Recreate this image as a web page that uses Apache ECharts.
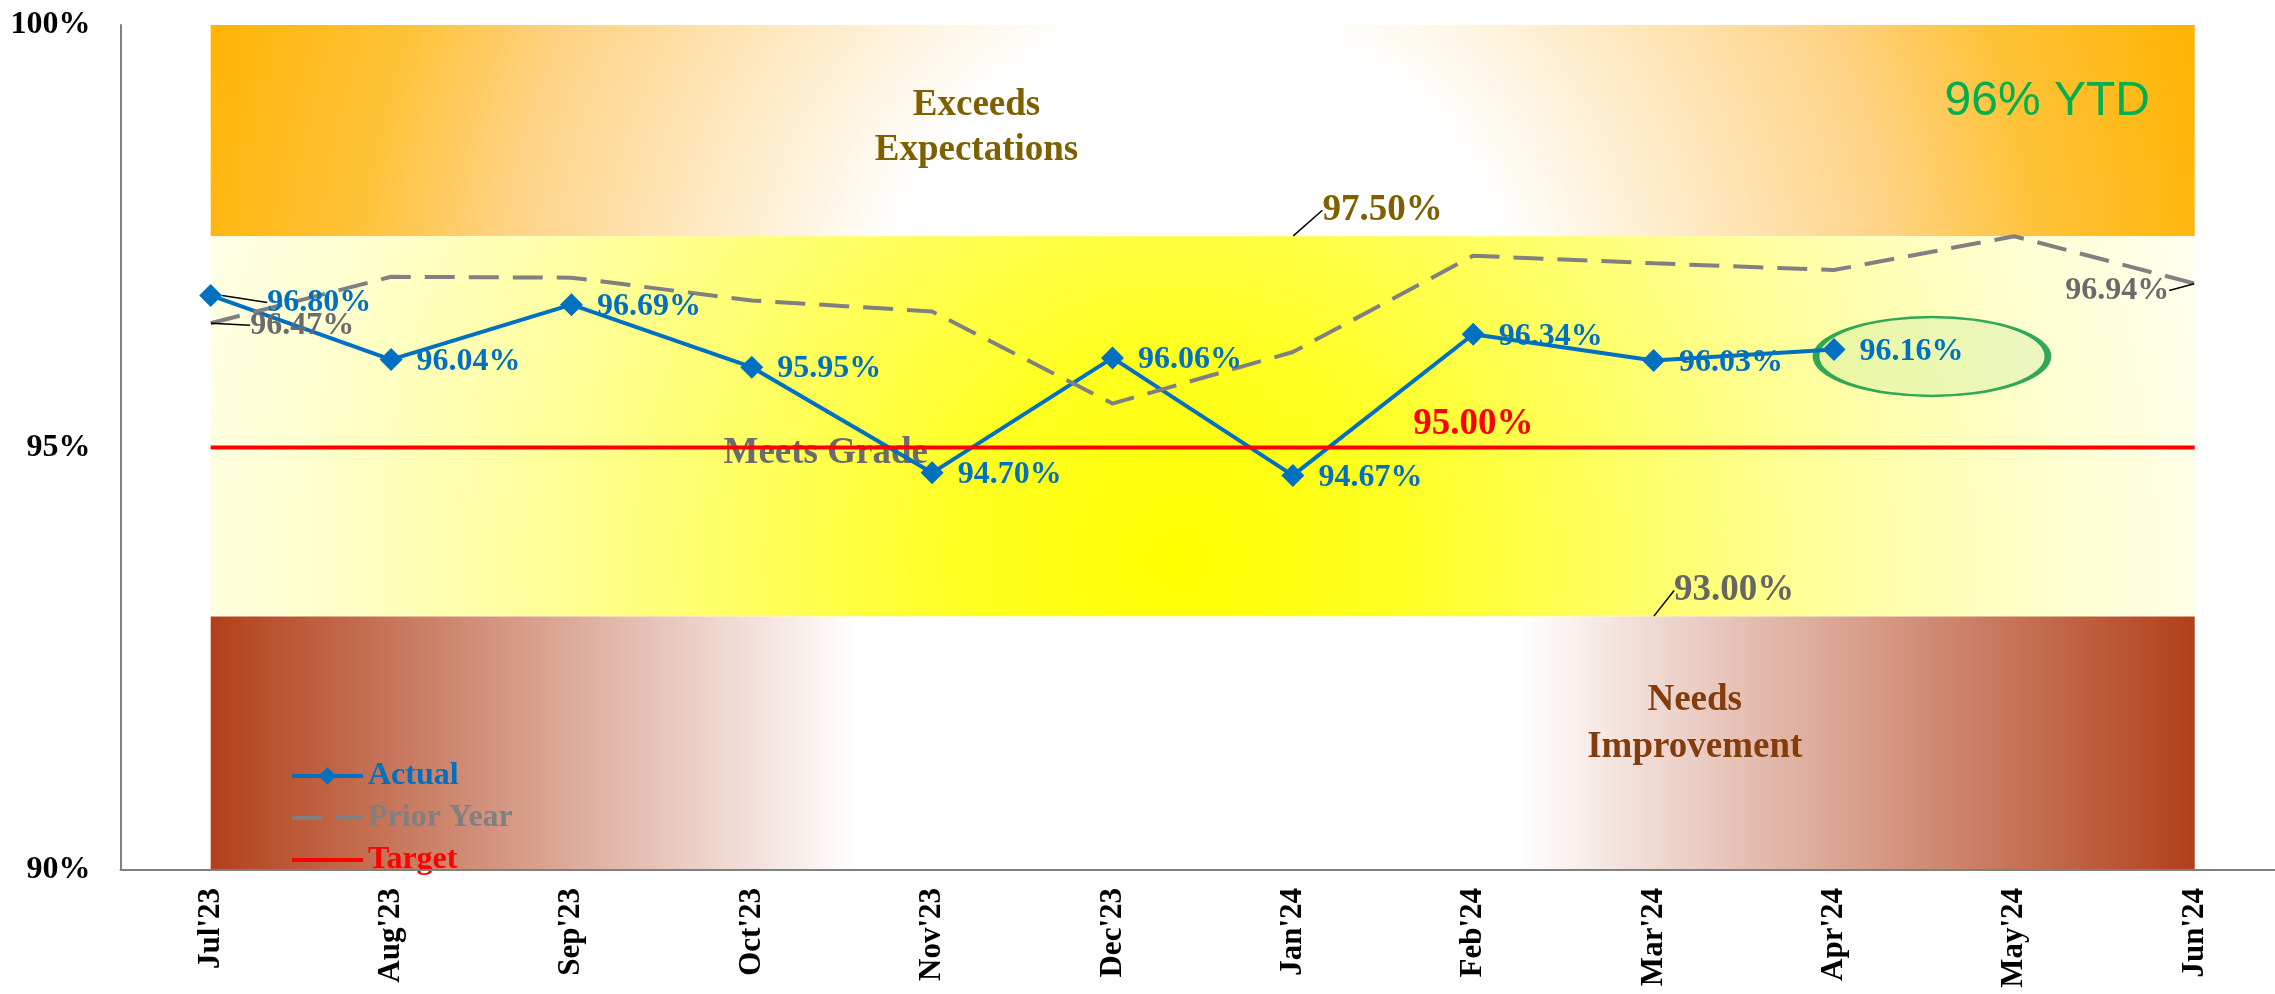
<!DOCTYPE html>
<html>
<head>
<meta charset="utf-8">
<script src="https://cdn.jsdelivr.net/npm/echarts@6/dist/echarts.min.js"></script>
<style>
html,body{margin:0;padding:0;background:#ffffff;}
#chart{width:2275px;height:994px;}
</style>
</head>
<body>
<div id="chart"></div>
<script>
// ---------------- data ----------------
const categories = ["Jul'23","Aug'23","Sep'23","Oct'23","Nov'23","Dec'23","Jan'24","Feb'24","Mar'24","Apr'24","May'24","Jun'24"];
const actual     = [96.80, 96.04, 96.69, 95.95, 94.70, 96.06, 94.67, 96.34, 96.03, 96.16, null, null];
const priorYear  = [96.47, 97.02, 97.01, 96.74, 96.61, 95.52, 96.13, 97.27, 97.18, 97.10, 97.50, 96.94];
const target     = [95, 95, 95, 95, 95, 95, 95, 95, 95, 95, 95, 95];
const bandNames  = ["Exceeds\nExpectations", "Meets Grade", "Needs\nImprovement"];
const bandFrom   = [97.5, 93, 90];
const bandTo     = [100, 97.5, 93];
const upperLimitCategory = "Jan'24", upperLimitValue = 97.5;
const lowerLimitCategory = "Mar'24", lowerLimitValue = 93;
const yAxisMin = 90, yAxisMax = 100, yAxisStep = 5;
const ytdText = "96% YTD";
const highlightIndex = 9;      // Apr'24 circled
const targetLabelIndex = 7;    // label shown at Feb'24

// ---------------- styling ----------------
const SERIF = "'Times New Roman', 'Liberation Serif', serif";
const BLUE = '#0070C0', GRAY = '#808080', GRAYTXT = '#6B6B6B', RED = '#FF0000';
const pct = v => Number(v).toFixed(2) + '%';

const bandStyles = [
  { color: { type: 'radial', x: 0.498, y: 1.445, r: 4.98, colorStops: [
      {offset: 0, color: '#FFFFFF'}, {offset: 0.3, color: '#FFFFFF'},
      {offset: 0.45, color: '#FEEDCC'}, {offset: 0.66, color: '#FED386'},
      {offset: 0.8, color: '#FFC33A'}, {offset: 1, color: '#FFB300'}]}},
  { color: { type: 'radial', x: 0.488, y: 0.85, r: 2.89, colorStops: [
      {offset: 0, color: '#FFFF00'}, {offset: 0.2, color: '#FFFF22'},
      {offset: 0.4, color: '#FFFF62'}, {offset: 0.6, color: '#FFFFA0'},
      {offset: 0.8, color: '#FFFFD0'}, {offset: 1, color: '#FFFFF5'}]}},
  { color: { type: 'linear', x: 0, y: 0, x2: 1, y2: 0, colorStops: [
      {offset: 0, color: '#B1401A'}, {offset: 0.325, color: '#FFFFFF'},
      {offset: 0.66, color: '#FFFFFF'}, {offset: 1, color: '#B1401A'}]}}
];
const bandLabels = [
  { position: ['38.6%', '48.6%'], color: '#7F6000', lineHeight: 45 },
  { position: ['31%', '57%'], color: '#6B6B6B', lineHeight: 40 },
  { position: ['74.8%', '42.2%'], color: '#843C0C', lineHeight: 47 }
];

const markAreaData = bandNames.map((n, i) => [
  { name: n, xAxis: categories[0], yAxis: bandFrom[i],
    itemStyle: bandStyles[i],
    label: Object.assign({ show: true, align: 'center', verticalAlign: 'middle',
      fontFamily: SERIF, fontWeight: 'bold', fontSize: 37 }, bandLabels[i]) },
  { xAxis: categories[categories.length - 1], yAxis: bandTo[i] }
]);

function limitSeries(name, cat, val, color, dx, dy) {
  return {
    name: name, type: 'scatter', z: 4, silent: true,
    data: [[cat, val]],
    symbol: 'circle', symbolSize: 1,
    itemStyle: { color: 'rgba(0,0,0,0)' },
    label: { show: true, position: 'right', distance: 0, color: color, opacity: 1,
             fontFamily: SERIF, fontWeight: 'bold', fontSize: 37,
             formatter: p => pct(p.value[1]) },
    labelLine: { show: true, lineStyle: { color: '#000', width: 1.5, opacity: 1 } },
    labelLayout: { dx: dx, dy: dy },
    emphasis: { disabled: true }
  };
}

const chart = echarts.init(document.getElementById('chart'), null, { renderer: 'canvas' });

const option = {
  animation: false,
  backgroundColor: '#ffffff',
  title: {
    text: ytdText, right: 125, top: 78, padding: 0,
    textStyle: { color: '#00B050', fontFamily: "Arial, 'Liberation Sans', sans-serif", fontWeight: 'normal', fontSize: 48 }
  },
  legend: {
    orient: 'vertical', left: 285, top: 755,
    itemWidth: 71, itemHeight: 22, itemGap: 10,
    textStyle: { fontFamily: SERIF, fontWeight: 'bold', fontSize: 32 },
    data: [
      { name: 'Actual', textStyle: { color: BLUE }, itemStyle: { color: BLUE }, lineStyle: { color: BLUE, width: 4 } },
      { name: 'Prior Year', textStyle: { color: GRAY }, itemStyle: { opacity: 0 }, lineStyle: { color: GRAY, width: 4, type: [30, 14] } },
      { name: 'Target', textStyle: { color: RED }, itemStyle: { opacity: 0 }, lineStyle: { color: RED, width: 4 } }
    ]
  },
  grid: { left: 120.5, top: 25, bottom: 124, width: 2164.4, outerBoundsMode: 'none', containLabel: false },
  xAxis: {
    type: 'category', data: categories, boundaryGap: true, z: 5,
    axisLine: { show: true, lineStyle: { color: '#808080', width: 2 } },
    axisTick: { show: false },
    splitLine: { show: false },
    axisLabel: { interval: 0, rotate: 90, margin: 18, color: '#000', fontFamily: SERIF, fontWeight: 'bold', fontSize: 31 }
  },
  yAxis: {
    type: 'value', min: yAxisMin, max: yAxisMax, interval: yAxisStep,
    axisLine: { show: true, lineStyle: { color: '#808080', width: 2 } },
    axisTick: { show: false },
    splitLine: { show: false },
    axisLabel: { margin: 30, color: '#000', fontFamily: SERIF, fontWeight: 'bold', fontSize: 32, formatter: v => v + '%' }
  },
  series: [
    {
      name: 'Actual', type: 'line', z: 4,
      data: actual.map((v, i) => i === 0 ? { value: v, labelLine: { show: true } } : v),
      symbol: 'diamond', symbolSize: 23,
      lineStyle: { color: BLUE, width: 4 },
      itemStyle: { color: BLUE },
      label: { show: true, position: 'right', distance: 14, color: BLUE, fontFamily: SERIF, fontWeight: 'bold', fontSize: 32,
               formatter: p => pct(p.value) },
      labelLine: { show: false, lineStyle: { color: '#000', width: 1.5 } },
      labelLayout: p => p.dataIndex === 0 ? { dx: 31, dy: 7 } : { dy: 2 },
      emphasis: { disabled: true }
    },
    {
      name: 'Prior Year', type: 'line', z: 4,
      data: priorYear.map((v, i) => {
        if (i === 0) return { value: v, label: { show: true, position: 'right' }, labelLine: { show: true } };
        if (i === priorYear.length - 1) return { value: v, label: { show: true, position: 'left' }, labelLine: { show: true } };
        return v;
      }),
      symbol: 'circle', symbolSize: 1,
      lineStyle: { color: GRAY, width: 4, type: [30, 14] },
      itemStyle: { color: 'rgba(0,0,0,0)' },
      label: { show: false, distance: 15, color: GRAYTXT, fontFamily: SERIF, fontWeight: 'bold', fontSize: 32,
               formatter: p => pct(p.value) },
      labelLine: { show: false, lineStyle: { color: '#000', width: 1.5 } },
      labelLayout: p => p.dataIndex === 0 ? { dx: 24, dy: 2 } : { dx: -10, dy: 7 },
      emphasis: { disabled: true }
    },
    {
      name: 'Target', type: 'line', z: 4,
      data: target.map((v, i) => i === targetLabelIndex ? { value: v, label: { show: true } } : v),
      symbol: 'circle', symbolSize: 1,
      lineStyle: { color: RED, width: 4 },
      itemStyle: { color: 'rgba(0,0,0,0)' },
      label: { show: false, position: 'top', distance: 4, color: RED, fontFamily: SERIF, fontWeight: 'bold', fontSize: 37,
               formatter: p => pct(p.value) },
      emphasis: { disabled: true },
      markArea: { silent: true, data: markAreaData }
    },
    {
      name: 'highlight', type: 'scatter', z: 3, silent: true,
      data: [[categories[highlightIndex], actual[highlightIndex]]],
      symbol: 'circle', symbolSize: [232, 79], symbolOffset: [98, 7],
      itemStyle: { color: 'rgba(200,232,160,0.45)', borderColor: '#00923F', borderWidth: 4 },
      label: { show: false },
      emphasis: { disabled: true }
    },
    limitSeries('upperLimit', upperLimitCategory, upperLimitValue, '#7F6000', 29, -26),
    limitSeries('lowerLimit', lowerLimitCategory, lowerLimitValue, '#666666', 20, -26)
  ]
};
chart.setOption(option);
</script>
</body>
</html>
